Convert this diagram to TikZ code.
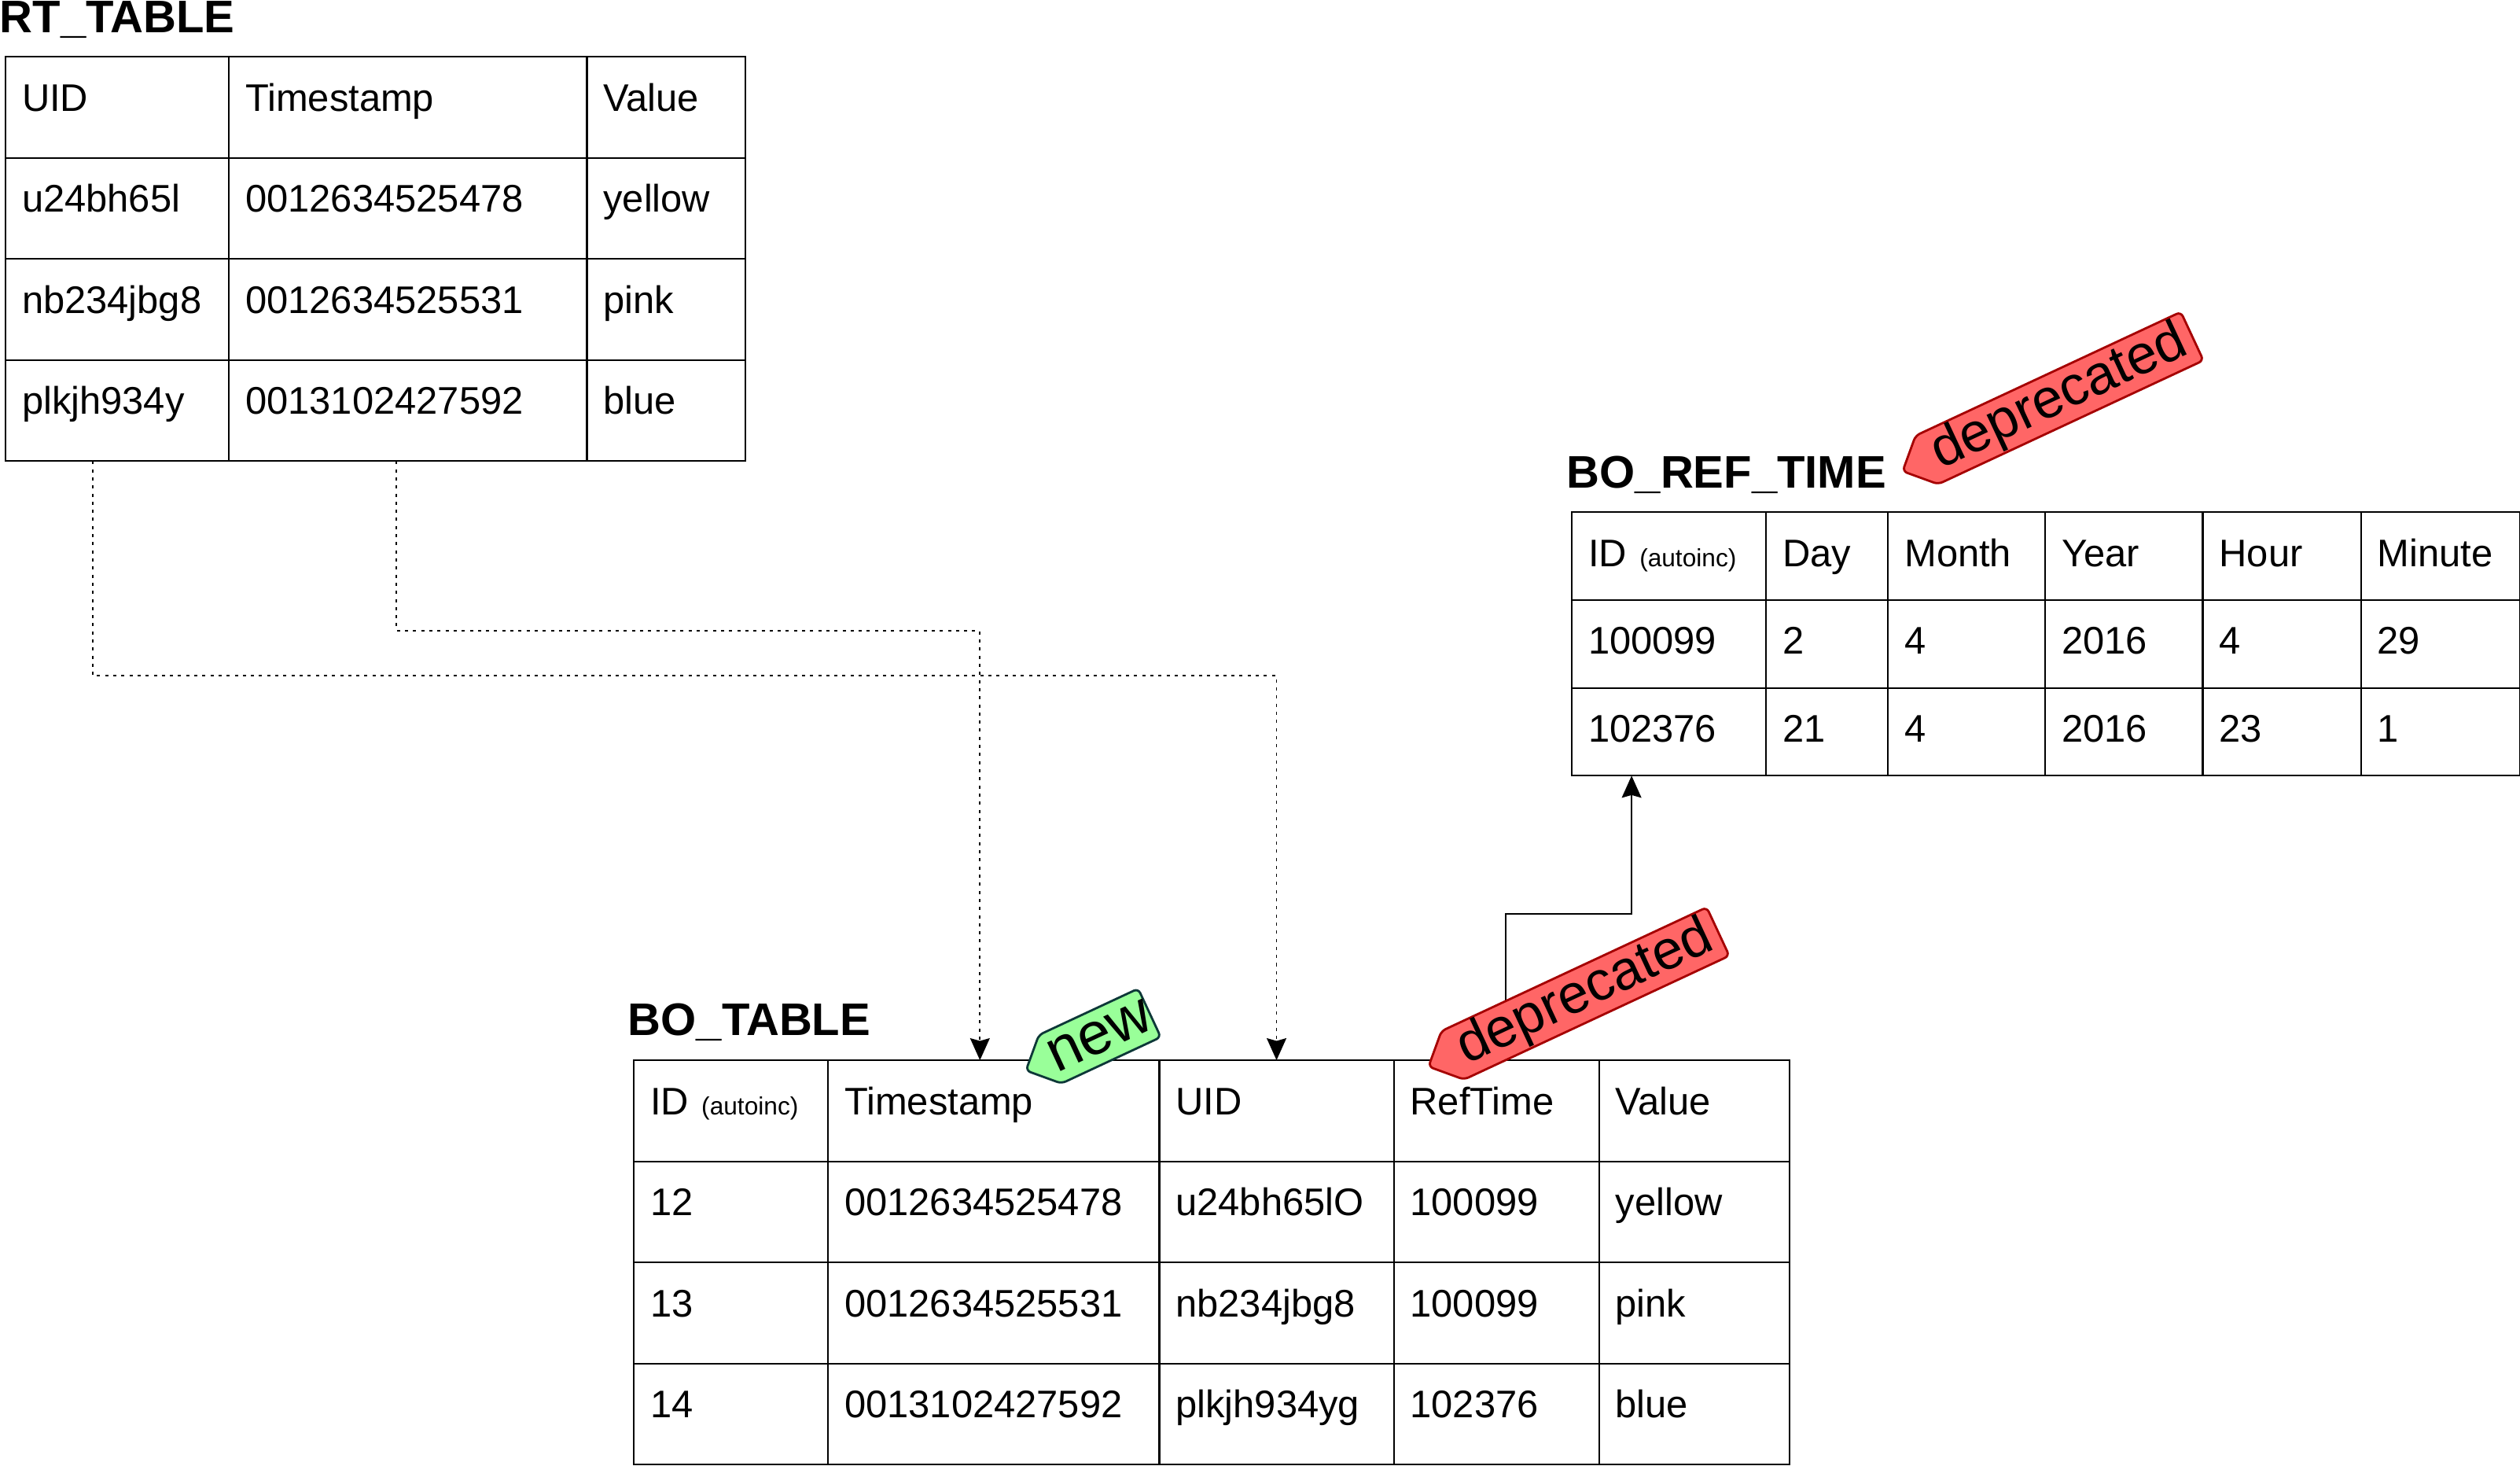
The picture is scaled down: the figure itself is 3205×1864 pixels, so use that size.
\documentclass[tikz,border=0pt]{standalone}
\usepackage{fontspec}
\setmainfont{Liberation Sans}
\usetikzlibrary{matrix,positioning,shapes.symbols,arrows.meta}

\definecolor{tagred}{HTML}{FF6666}
\definecolor{tagredline}{HTML}{A50000}
\definecolor{taggreen}{HTML}{99FF99}
\definecolor{taggreenline}{HTML}{0D3838}

\newcommand{\cellfont}{\fontsize{13.9pt}{16pt}\selectfont}
\newcommand{\autoinc}{{\fontsize{9pt}{10pt}\selectfont(autoinc)}}

\begin{document}
\begin{tikzpicture}[x=0.01cm, y=-0.01cm,
    tbl/.style={matrix of nodes, anchor=north west, inner sep=0pt, outer sep=0pt,
        column sep=-0.6pt, row sep=-0.6pt,
        nodes={draw, line width=0.6pt, inner xsep=0.21cm, inner ysep=0pt, outer sep=0pt,
            text height=0.69cm, text depth=0.595cm, align=left, font=\cellfont}},
    title/.style={font=\fontsize{16.5pt}{19pt}\selectfont\bfseries, inner sep=0pt},
    link/.style={line width=0.5pt, -{Stealth[length=0.28cm, width=0.25cm, inset=0.035cm]}},
    dots/.style={dash pattern=on 0.04cm off 0.063cm},
    tag/.style={shape=signal, signal to=west, signal from=nowhere, signal pointer angle=90,
        draw, line width=0.8pt, rounded corners=0.06cm, inner sep=0pt, minimum height=0.68cm,
        rotate=25, anchor=west},
    deptag/.style={tag, fill=tagred, draw=tagredline, minimum width=4.06cm,
        font=\fontsize{19.9pt}{22pt}\selectfont}]

    \useasboundingbox[fill=white] (0,0) rectangle (3205,1864);

    % tables
    \matrix (rt) [tbl, at={(6,71)},
        column 1/.style={nodes={text width=2.42cm}},
        column 2/.style={nodes={text width=4.13cm}},
        column 3/.style={nodes={text width=1.59cm}}] {
        UID & Timestamp & Value \\
        u24bh65l & 0012634525478 & yellow \\
        nb234jbg8 & 0012634525531 & pink \\
        plkjh934y & 0013102427592 & blue \\
    };

    \matrix (bo) [tbl, at={(805,1347)},
        column 1/.style={nodes={text width=2.05cm}},
        column 2/.style={nodes={text width=3.79cm}},
        column 3/.style={nodes={text width=2.56cm}},
        column 4/.style={nodes={text width=2.19cm}},
        column 5/.style={nodes={text width=2.00cm}}] {
        ID \autoinc & Timestamp & UID & RefTime & Value \\
        12 & 0012634525478 & u24bh65lO & 100099 & yellow \\
        13 & 0012634525531 & nb234jbg8 & 100099 & pink \\
        14 & 0013102427592 & plkjh934yg & 102376 & blue \\
    };

    \matrix (ref) [tbl, at={(1998,650)}, nodes={text depth=0.427cm},
        column 1/.style={nodes={text width=2.05cm}},
        column 2/.style={nodes={text width=1.13cm}},
        column 3/.style={nodes={text width=1.58cm}},
        column 4/.style={nodes={text width=1.58cm}},
        column 5/.style={nodes={text width=1.59cm}},
        column 6/.style={nodes={text width=1.60cm}}] {
        ID \autoinc & Day & Month & Year & Hour & Minute \\
        100099 & 2 & 4 & 2016 & 4 & 29 \\
        102376 & 21 & 4 & 2016 & 23 & 1 \\
    };

    % titles
    \node[title, above right=0.29cm and -0.07cm of rt.north west, anchor=base west] (rttitle) {RT\_TABLE};
    \node[title, above right=0.30cm and -0.07cm of bo.north west, anchor=base west] (botitle) {BO\_TABLE};
    \node[title, above right=0.29cm and -0.06cm of ref.north west, anchor=base west] (reftitle) {BO\_REF\_TIME};

    % connectors
    \draw[link, dots] ([xshift=-0.31cm]rt-4-1.south) -- ++(0,273) -| (bo-1-3.north);
    \draw[link, dots] ([xshift=-0.145cm]rt-4-2.south) -- ++(0,216) -| ([xshift=-0.175cm]bo-1-2.north);
    \draw[link, line width=0.45pt] ([xshift=0.115cm]bo-1-4.north) -- ++(0,-186) -| ([xshift=-0.475cm]ref-3-1.south);

    % tags
    \node[tag, fill=taggreen, draw=taggreenline, minimum width=1.73cm,
        font=\fontsize{21.6pt}{24pt}\selectfont] (newtag) at (1303,1362) {new};
    \node[deptag] (depbo) at (1815,1357) {deprecated};
    \node[deptag] (depref) at (2418,600) {deprecated};
\end{tikzpicture}
\end{document}
